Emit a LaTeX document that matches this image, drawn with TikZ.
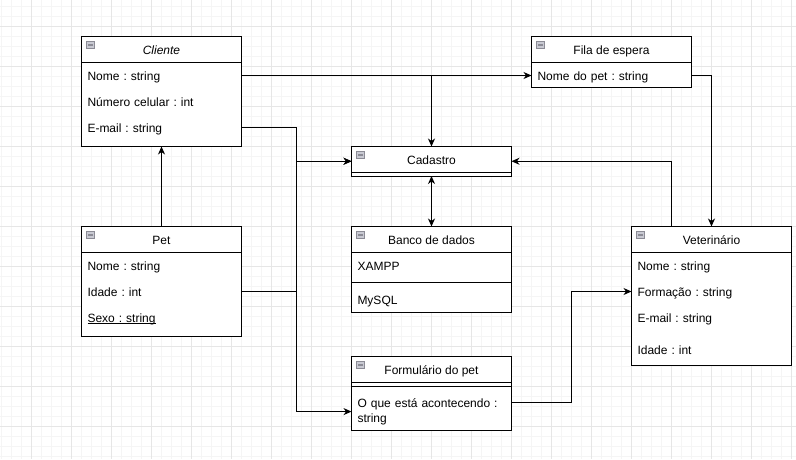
\documentclass[tikz,border=0pt]{standalone}
\usepackage{fontspec}
\setmainfont{Liberation Sans}
\frenchspacing
\usetikzlibrary{arrows.meta,positioning,calc}
\definecolor{gridmin}{HTML}{F5F5F5}
\definecolor{gridmaj}{HTML}{E6E6E6}
\definecolor{togline}{HTML}{8C8C96}
\definecolor{togfill}{HTML}{C9CAD3}
\tikzset{
  >={Stealth[length=8pt,width=7pt,inset=2.5pt]},
  x=1pt,y=-1pt,
  font=\fontsize{12}{14.5}\selectfont,
  cls/.style={draw,line width=1pt,fill=white,anchor=north west,minimum width=160pt,
              inner sep=0pt,outer sep=0pt},
  ttl/.style={inner sep=0pt,text height=11pt,text depth=2pt},
  row/.style={anchor=north west,inner sep=0pt,outer sep=0pt,minimum width=160pt,
              minimum height=26pt,text width=148pt,align=left,text height=11pt,text depth=2pt},
  txt/.style={inner sep=0pt,outer sep=0pt,text width=148pt,align=left},
  sep/.style={line width=1pt},
  tog/.style={draw=togline,fill=togfill,line width=0.8pt,minimum width=8pt,minimum height=7pt,
              inner sep=0pt,path picture={\draw[line width=1.2pt]
              ([xshift=1.8pt]path picture bounding box.west) --
              ([xshift=-1.8pt]path picture bounding box.east);}},
  flow/.style={->,line width=1pt},
}
\newsavebox\ulbox
\newcommand\ulattr[1]{\sbox\ulbox{#1}\rlap{\rule[-1.8pt]{\wd\ulbox}{0.8pt}}\usebox\ulbox}
\begin{document}
\begin{tikzpicture}
  \useasboundingbox (0,0) rectangle (796,459);
  \fill[white] (0,0) rectangle (796,459);
  % draw.io grid
  \foreach \gx in {1.5,11.5,...,791.5} \draw[gridmin,line width=1pt] (\gx,0) -- (\gx,459);
  \foreach \gy in {6.5,16.5,...,456.5} \draw[gridmin,line width=1pt] (0,\gy) -- (796,\gy);
  \foreach \gx in {31.5,71.5,...,791.5} \draw[gridmaj,line width=1pt] (\gx,0) -- (\gx,459);
  \foreach \gy in {26.5,66.5,...,426.5} \draw[gridmaj,line width=1pt] (0,\gy) -- (796,\gy);

  % class boxes
  \node[cls,minimum height=110pt] (cli) at (81.5,36.5) {};
  \node[cls,minimum height=51pt] (fil) at (531.5,36.5) {};
  \node[cls,minimum height=29.5pt] (cad) at (351.5,146.5) {};
  \node[cls,minimum height=86pt] (ban) at (351.5,226.5) {};
  \node[cls,minimum height=110pt] (pet) at (81.5,226.5) {};
  \node[cls,minimum height=139pt] (vet) at (631.5,226.5) {};
  \node[cls,minimum height=74pt] (frm) at (351.5,356.5) {};

  \foreach \c in {cli,fil,cad,ban,pet,vet,frm}
    \draw[sep] ($(\c.north west)+(0,26)$) -- ++(160,0);
  \draw[sep] ($(ban.north west)+(0,56)$) -- ++(160,0);
  \draw[sep] ($(frm.north west)+(0,29.5)$) -- ++(160,0);
  \foreach \c in {cli,fil,cad,ban,pet,vet,frm}
    \node[tog] (\c-tog) at ($(\c.north west)+(9,8.5)$) {};

  % titles
  \node[ttl] (cliT) at ($(cli.north)+(0,13)$) {\textit{Cliente}};
  \node[ttl] (filT) at ($(fil.north)+(0,13)$) {Fila de espera};
  \node[ttl] (cadT) at ($(cad.north)+(0,13)$) {Cadastro};
  \node[ttl] (banT) at ($(ban.north)+(0,13)$) {Banco de dados};
  \node[ttl] (petT) at ($(pet.north)+(0,13)$) {Pet};
  \node[ttl] (vetT) at ($(vet.north)+(0,13)$) {Veterinário};
  \node[ttl] (frmT) at ($(frm.north)+(0,13)$) {Formulário do pet};

  % attributes
  \node[row] (cli1) at ($(cli.north west)+(0,26)$) {Nome : string};
  \node[row,below=0pt of cli1] (cli2) {Número celular : int};
  \node[row,below=0pt of cli2] (cli3) {E-mail : string};
  \node[row] (fil1) at ($(fil.north west)+(0,26)$) {Nome do pet : string};
  \node[row] (ban1) at ($(ban.north west)+(0,26)$) {XAMPP};
  \node[row,below=8pt of ban1] (ban2) {MySQL};
  \node[row] (pet1) at ($(pet.north west)+(0,26)$) {Nome : string};
  \node[row,below=0pt of pet1] (pet2) {Idade : int};
  \node[row,below=0pt of pet2] (pet3) {\ulattr{Sexo : string}};
  \node[row] (vet1) at ($(vet.north west)+(0,26)$) {Nome : string};
  \node[row,below=0pt of vet1] (vet2) {Formação : string};
  \node[row,below=0pt of vet2] (vet3) {E-mail : string};
  \node[row,below=6pt of vet3] (vet4) {Idade : int};
  \node[txt,anchor=base west] (frmR) at ($(frm.north west)+(6,51)$)
    {O que está acontecendo :\\string};

  % connectors
  \coordinate (busL) at (296.5,0);
  \coordinate (busR) at (571.5,0);
  \draw[flow] (pet.north) -- (cli.south);
  \draw[flow] (cli1.east) -- (fil1.west);
  \draw[flow] (cli1.east -| cad.north) -- (cad.north);
  \draw[flow] (cli3.east) -| (busL |- cad.west) -- (cad.west);
  \draw[flow] (pet2.east) -| (busL |- cad.west) -- (cad.west);
  \draw[flow] (pet2.east) -| (busL |- frmR) -- (frm.west |- frmR);
  \draw[flow] ($(frm.east |- frmR.base)+(0,-5)$) -| (busR |- vet2) -- (vet2.west);
  \draw[flow] (fil1.east) -| (vet.north);
  \draw[flow] ($(vet.north)+(-40,0)$) |- (cad.east);
  \draw[flow,<->] (cad.south) -- (ban.north);
\end{tikzpicture}
\end{document}
